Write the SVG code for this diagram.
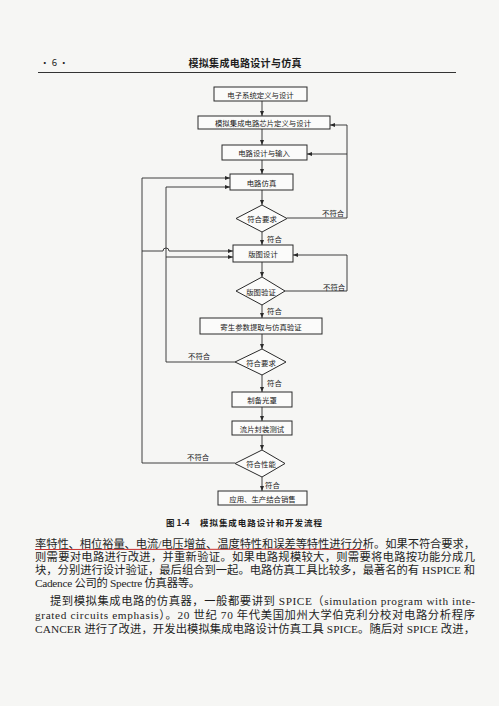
<svg xmlns="http://www.w3.org/2000/svg" width="499" height="706" viewBox="0 0 499 706">
<defs>
<marker id="arr" viewBox="0 0 10 10" refX="10" refY="5" markerWidth="5" markerHeight="5" orient="auto" markerUnits="userSpaceOnUse">
<path d="M0,1 L10,5 L0,9 Z" fill="#2a2a2a"/>
</marker>
<style>
.bg{fill:#f6f6f4}
.box{fill:#fbfbfa;stroke:#2a2a2a;stroke-width:1}
.ln{fill:none;stroke:#2a2a2a;stroke-width:0.9}
.t{font-family:"Noto Sans CJK SC","Liberation Serif",sans-serif;font-size:7.4px;fill:#222;text-anchor:middle;dominant-baseline:central}
.lb{font-family:"Noto Sans CJK SC","Liberation Serif",sans-serif;font-size:7.4px;fill:#222;dominant-baseline:central}
.body{font-family:"Liberation Serif","Noto Sans CJK SC",serif;font-size:11.3px;fill:#1e1e1e;dominant-baseline:central}
.hd{font-family:"Noto Sans CJK SC","Liberation Serif",sans-serif;fill:#1e1e1e;dominant-baseline:central}
</style>
</defs>
<rect class="bg" x="0" y="0" width="499" height="706"/>

<g id="header">
<text class="hd" x="40" y="62" font-size="9.5">· 6 ·</text>
<text class="hd" x="245" y="62" font-size="10" font-weight="bold" text-anchor="middle" textLength="113" lengthAdjust="spacing">模拟集成电路设计与仿真</text>
<line x1="38" y1="72.5" x2="456" y2="72.5" stroke="#333" stroke-width="1"/>
</g>

<g id="connectors">
<line class="ln" x1="262" y1="101" x2="262" y2="116" marker-end="url(#arr)"/>
<line class="ln" x1="262" y1="129" x2="262" y2="145" marker-end="url(#arr)"/>
<line class="ln" x1="262" y1="160" x2="262" y2="174" marker-end="url(#arr)"/>
<line class="ln" x1="262" y1="190" x2="262" y2="205" marker-end="url(#arr)"/>
<polyline class="ln" points="287,218 347,218 347,125 330,125" marker-end="url(#arr)"/>
<line class="ln" x1="347" y1="154" x2="307" y2="154" marker-end="url(#arr)"/>
<line class="ln" x1="262" y1="232" x2="262" y2="245" marker-end="url(#arr)"/>
<line class="ln" x1="262" y1="262" x2="262" y2="277" marker-end="url(#arr)"/>
<polyline class="ln" points="285,291 347,291 347,255 293,255" marker-end="url(#arr)"/>
<line class="ln" x1="262" y1="305" x2="262" y2="318" marker-end="url(#arr)"/>
<line class="ln" x1="262" y1="334" x2="262" y2="349" marker-end="url(#arr)"/>
<polyline class="ln" points="235,362 166,362 166,187 230,187" marker-end="url(#arr)"/>
<line class="ln" x1="166" y1="257" x2="233" y2="257" marker-end="url(#arr)"/>
<line class="ln" x1="262" y1="375" x2="262" y2="392" marker-end="url(#arr)"/>
<line class="ln" x1="262" y1="407" x2="262" y2="421" marker-end="url(#arr)"/>
<line class="ln" x1="262" y1="435" x2="262" y2="450" marker-end="url(#arr)"/>
<polyline class="ln" points="235,463 142,463 142,178 230,178" marker-end="url(#arr)"/>
<path class="ln" d="M142,251 L163,251 A3,3 0 0 1 169,251 L233,251" marker-end="url(#arr)"/>
<line class="ln" x1="262" y1="477" x2="262" y2="491" marker-end="url(#arr)"/>
<text class="lb" x="322" y="212">不符合</text>
<text class="lb" x="323" y="286">不符合</text>
<text class="lb" x="188" y="355">不符合</text>
<text class="lb" x="187" y="456">不符合</text>
<text class="lb" x="267" y="238">符合</text>
<text class="lb" x="267" y="310">符合</text>
<text class="lb" x="267" y="382">符合</text>
<text class="lb" x="265" y="484">符合</text>
</g>

<g id="n1"><rect class="box" x="214" y="87" width="93" height="14"/><text class="t" x="260.5" y="94">电子系统定义与设计</text></g>
<g id="n2"><rect class="box" x="198" y="116" width="132" height="13"/><text class="t" x="263" y="122.5">模拟集成电路芯片定义与设计</text></g>
<g id="n3"><rect class="box" x="222" y="145" width="85" height="15"/><text class="t" x="264" y="152.5">电路设计与输入</text></g>
<g id="n4"><rect class="box" x="230" y="174" width="63" height="16"/><text class="t" x="261.5" y="182">电路仿真</text></g>
<g id="d1"><polygon class="box" points="262,205 287,218.5 262,232 236,218.5"/><text class="t" x="262" y="218.5">符合要求</text></g>
<g id="n5"><rect class="box" x="233" y="245" width="60" height="17"/><text class="t" x="263" y="253.5">版图设计</text></g>
<g id="d2"><polygon class="box" points="262,277 285,291 262,305 236,291"/><text class="t" x="261" y="291">版图验证</text></g>
<g id="n6"><rect class="box" x="200" y="318" width="122" height="16"/><text class="t" x="261" y="326">寄生参数提取与仿真验证</text></g>
<g id="d3"><polygon class="box" points="262,349 286,362 262,375 235,362"/><text class="t" x="261" y="362">符合要求</text></g>
<g id="n7"><rect class="box" x="232" y="392" width="60" height="15"/><text class="t" x="262" y="399.5">制备光罩</text></g>
<g id="n8"><rect class="box" x="232" y="421" width="60" height="14"/><text class="t" x="262" y="428">流片封装测试</text></g>
<g id="d4"><polygon class="box" points="262,450 285,463.5 262,477 235,463.5"/><text class="t" x="261" y="463.5">符合性能</text></g>
<g id="n9"><rect class="box" x="218" y="491" width="89" height="14"/><text class="t" x="262.5" y="498">应用、生产结合销售</text></g>

<g id="caption">
<text class="hd" x="166" y="522" font-size="8.5" font-weight="bold">图 1-4</text>
<text class="hd" x="200" y="522" font-size="8.5" font-weight="bold" textLength="122" lengthAdjust="spacing">模拟集成电路设计和开发流程</text>
</g>

<g id="bodytext">
<path d="M35,549.5 C120,550.5 250,548.5 366,549.5" fill="none" stroke="#c8312f" stroke-width="1.2"/>
<text class="body" x="35" y="544" textLength="440" lengthAdjust="spacing">率特性、相位裕量、电流/电压增益、温度特性和误差等特性进行分析。如果不符合要求，</text>
<text class="body" x="35" y="557" textLength="440" lengthAdjust="spacing">则需要对电路进行改进，并重新验证。如果电路规模较大，则需要将电路按功能分成几</text>
<text class="body" x="35" y="570" textLength="440" lengthAdjust="spacing">块，分别进行设计验证，最后组合到一起。电路仿真工具比较多，最著名的有 HSPICE 和</text>
<text class="body" x="35" y="583" textLength="165" lengthAdjust="spacing">Cadence 公司的 Spectre 仿真器等。</text>
<text class="body" x="50" y="601" textLength="425" lengthAdjust="spacing">提到模拟集成电路的仿真器，一般都要讲到 SPICE（simulation program with inte-</text>
<text class="body" x="35" y="615" textLength="440" lengthAdjust="spacing">grated circuits emphasis）。20 世纪 70 年代美国加州大学伯克利分校对电路分析程序</text>
<text class="body" x="35" y="629" textLength="440" lengthAdjust="spacing">CANCER 进行了改进，开发出模拟集成电路设计仿真工具 SPICE。随后对 SPICE 改进，</text>
</g>
</svg>
